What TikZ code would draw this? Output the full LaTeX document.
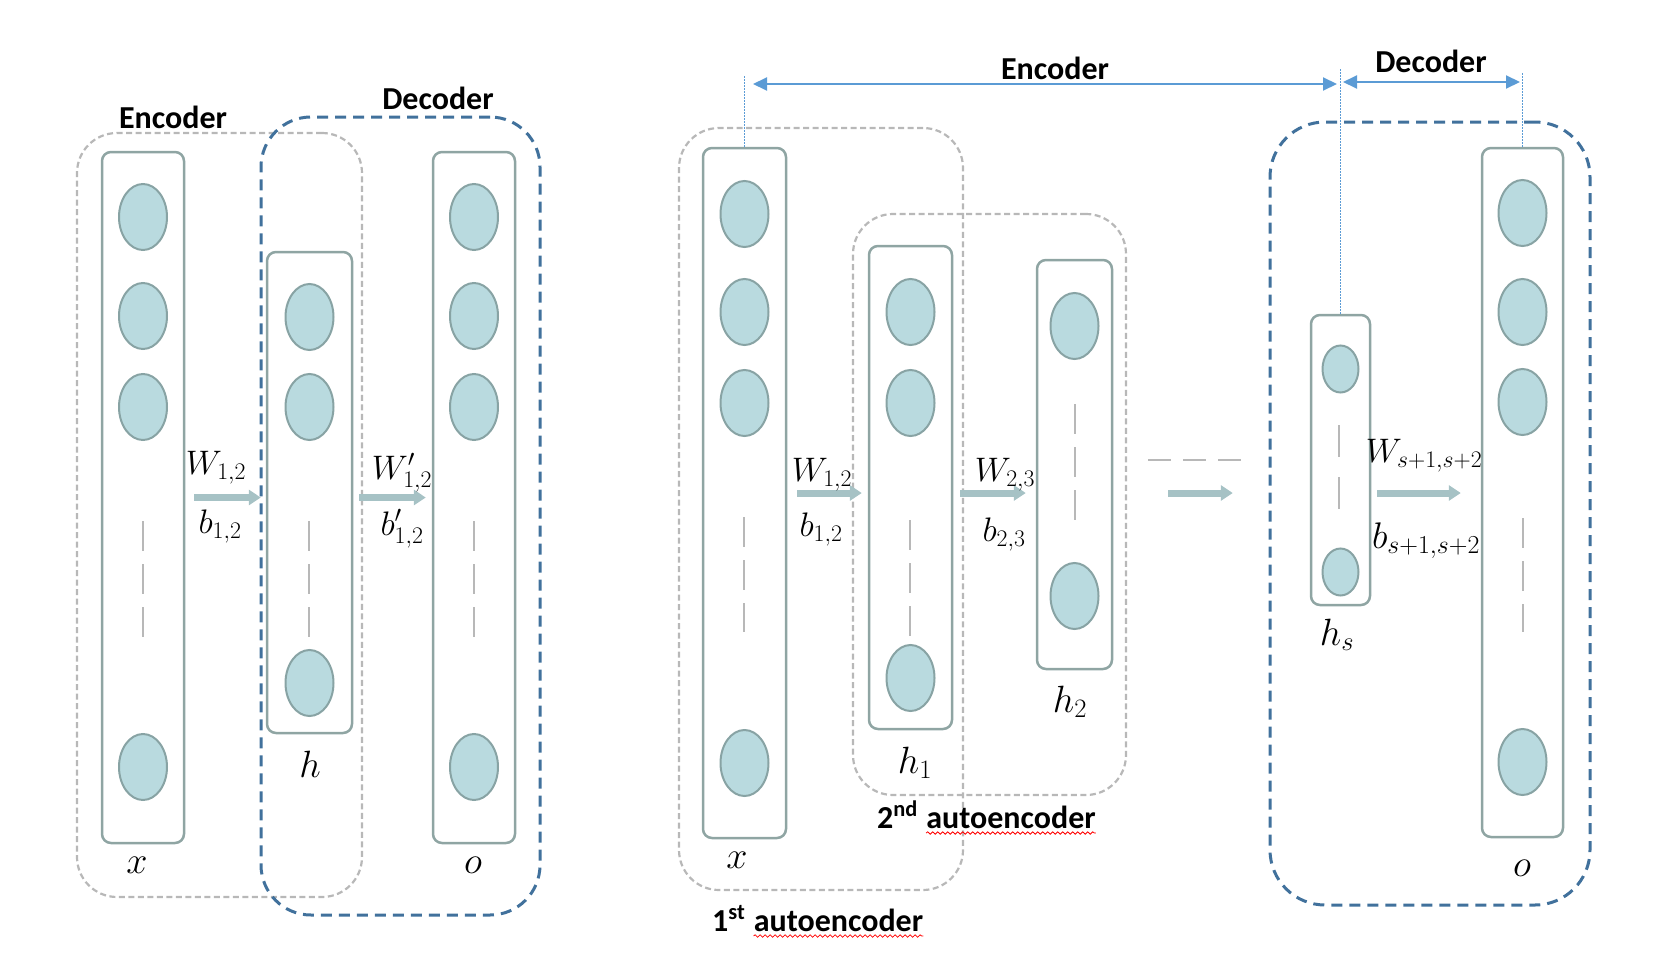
\RequirePackage{fix-cm}
\documentclass[tikz,border=0pt]{standalone}
\usepackage{fontspec}
\newfontfamily\carlito{Carlito}
\usepackage{xcolor}
\usetikzlibrary{positioning, arrows.meta, shapes.geometric, decorations.pathmorphing}

\definecolor{boxline}{HTML}{8FA5A3}
\definecolor{neuronfill}{HTML}{B9DADF}
\definecolor{neuronline}{HTML}{88A3A4}
\definecolor{graydash}{HTML}{B8B8B8}
\definecolor{bluedash}{HTML}{41719C}
\definecolor{guideblue}{HTML}{5B9BD5}
\definecolor{fatfill}{HTML}{A6C2C5}

\tikzset{
    column/.style={draw=boxline, line width=2.5pt, rounded corners=9pt, inner sep=0pt}, % a layer of units
    neuron/.style={ellipse, draw=neuronline, fill=neuronfill, line width=2pt, minimum width=48pt, minimum height=66pt, inner sep=0pt},
    small neuron/.style={neuron, minimum width=36pt, minimum height=47pt},
    group/.style={draw=graydash, line width=2.2pt, dash pattern=on 6pt off 3.5pt, rounded corners=40pt, inner sep=0pt}, % one autoencoder
    stage/.style={draw=bluedash, line width=3pt, dash pattern=on 11pt off 7pt, rounded corners=50pt, inner sep=0pt}, % decoder part
    skip/.style={draw=graydash, line width=2.5pt, dash pattern=on 30pt off 13pt}, % the "..." inside a layer
    flow/.style={draw=fatfill, line width=7pt, -{Triangle[length=12pt,width=15pt]}},
    span/.style={draw=guideblue, line width=2pt, {Triangle[length=14pt,width=13pt]}-{Triangle[length=14pt,width=13pt]}},
    guide/.style={draw=guideblue, line width=1pt, dash pattern=on 2pt off 1pt},
    heading/.style={font=\carlito\bfseries\fontsize{32}{38}\selectfont, inner sep=0pt},
    var/.style={font=\fontsize{38}{44}\selectfont, inner sep=0pt, anchor=base},
    param/.style={font=\fontsize{34}{40}\selectfont, inner sep=0pt, anchor=base},
    squiggle/.style={draw=red, line width=0.8pt, decorate, decoration={snake, amplitude=1.2pt, segment length=5pt}},
}

\begin{document}
\begin{tikzpicture}[x=1pt, y=-1pt]
    \useasboundingbox (0,0) rectangle (1666,964);

    % ---- single autoencoder (left) ----
    \node[group, minimum width=285pt, minimum height=764pt] (enc1) at (219.5,515) {};
    \node[stage, minimum width=279pt, minimum height=798pt] (dec1) at (400.5,516) {};
    \node[heading, anchor=base] (enclbl1) at (173,128) {Encoder};
    \node[heading, anchor=base] (declbl1) at (438,109) {Decoder};

    \node[column, minimum width=82pt, minimum height=691pt] (xcol1) at (143,497.5) {};
    \node[column, minimum width=85pt, minimum height=481pt] (hcol1) at (309.5,492.5) {};
    \node[column, minimum width=82pt, minimum height=691pt] (ocol1) at (474,497.5) {};

    \node[neuron] (x1a) at (143,217) {};
    \node[neuron] (x1b) at (143,316) {};
    \node[neuron] (x1c) at (143,407) {};
    \node[neuron] (x1d) at (143,767) {};
    \node[neuron] (h1a) at (309.5,317) {};
    \node[neuron] (h1b) at (309.5,407) {};
    \node[neuron] (h1c) at (309.5,683) {};
    \node[neuron] (o1a) at (474,217) {};
    \node[neuron] (o1b) at (474,316) {};
    \node[neuron] (o1c) at (474,407) {};
    \node[neuron] (o1d) at (474,767) {};

    \draw[skip] (143,521) -- (143,637);
    \draw[skip] (309,521) -- (309,637);
    \draw[skip] (474,521) -- (474,637);

    \draw[flow, shorten <=9pt, shorten >=5pt] (xcol1.east) -- (xcol1.east -| hcol1.west);
    \draw[flow, shorten <=6pt, shorten >=6pt] (hcol1.east |- xcol1.east) -- (xcol1.east -| ocol1.west);

    \node[param] (w1) at (216,474) {$W_{1,2}$};
    \node[param] (b1) at (220,533) {$b_{1,2}$};
    \node[param] (w1d) at (402,479) {$W^{\prime}_{1,2}$};
    \node[param] (b1d) at (402,535) {$b^{\prime}_{1,2}$};

    \node[var] (xl1) at (137,873) {$x$};
    \node[var] (hl1) at (310,777) {$h$};
    \node[var] (ol1) at (473,873) {$o$};

    % ---- stacked autoencoder (right) ----
    \node[group, minimum width=284pt, minimum height=762pt] (ae1) at (821,509) {};
    \node[group, minimum width=273pt, minimum height=581pt] (ae2) at (989.5,504.5) {};
    \node[stage, minimum width=320pt, minimum height=783pt, rounded corners=55pt] (dec2) at (1430,513.5) {};

    \node[column, minimum width=83pt, minimum height=690pt] (xcol2) at (744.5,493) {};
    \node[column, minimum width=83pt, minimum height=483pt] (h1col) at (910.5,487.5) {};
    \node[column, minimum width=75pt, minimum height=409pt] (h2col) at (1074.5,464.5) {};
    \node[column, minimum width=59pt, minimum height=290pt] (hscol) at (1340.5,460) {};
    \node[column, minimum width=81pt, minimum height=689pt] (ocol2) at (1522.5,492.5) {};

    \node[neuron] (x2a) at (744.5,214) {};
    \node[neuron] (x2b) at (744.5,312) {};
    \node[neuron] (x2c) at (744.5,403) {};
    \node[neuron] (x2d) at (744.5,763) {};
    \node[neuron] (h2a) at (910.5,312) {};
    \node[neuron] (h2b) at (910.5,403) {};
    \node[neuron] (h2c) at (910.5,678) {};
    \node[neuron] (h3a) at (1074.5,326) {};
    \node[neuron] (h3b) at (1074.5,596) {};
    \node[small neuron] (hsa) at (1340.5,369) {};
    \node[small neuron] (hsb) at (1340.5,572) {};
    \node[neuron] (o2a) at (1522.5,213) {};
    \node[neuron] (o2b) at (1522.5,312) {};
    \node[neuron] (o2c) at (1522.5,402) {};
    \node[neuron] (o2d) at (1522.5,762) {};

    \draw[skip] (744,517) -- (744,632);
    \draw[skip] (910,520) -- (910,637);
    \draw[skip] (1075,404) -- (1075,520);
    \draw[skip, dash pattern=on 32pt off 20pt] (1339,425) -- (1339,509);
    \draw[skip] (1523,518) -- (1523,632);

    \draw[flow, shorten <=10pt, shorten >=6pt] (xcol2.east) -- (xcol2.east -| h1col.west);
    \draw[flow, shorten <=7pt, shorten >=10pt] (h1col.east |- xcol2.east) -- (xcol2.east -| h2col.west);
    \draw[skip, line width=2pt, dash pattern=on 23pt off 12pt, shorten <=35pt, shorten >=58pt] (h2col.east |- hscol.east) -- (hscol.west);
    \draw[flow, shorten <=55pt, shorten >=77pt] (h2col.east |- xcol2.east) -- (xcol2.east -| hscol.west);
    \draw[flow, shorten <=6pt, shorten >=20pt] (hscol.east |- xcol2.east) -- (xcol2.east -| ocol2.west);

    \node[param] (w2) at (822,481) {$W_{1,2}$};
    \node[param] (b2) at (821,536) {$b_{1,2}$};
    \node[param] (w3) at (1005,481) {$W_{2,3}$};
    \node[param] (b3) at (1004,541) {$b_{2,3}$};
    \node[param] (ws) at (1424,462) {$W_{s+1,s+2}$};
    \node[param, font=\fontsize{37}{44}\selectfont] (bs) at (1426,548) {$b_{s+1,s+2}$};

    \node[var] (xl2) at (737,868) {$x$};
    \node[var] (hl2) at (915,773) {$h_1$};
    \node[var] (hl3) at (1070,712) {$h_2$};
    \node[var] (hls) at (1337,645) {$h_s$};
    \node[var] (ol2) at (1522,876) {$o$};

    % guides and spans on top
    \coordinate (gtopx) at (744.5,75);
    \coordinate (gtoph) at (1340.5,68);
    \coordinate (gtopo) at (1522.5,73);
    \draw[guide] (xcol2.north) -- (gtopx);
    \draw[guide] (hscol.north) -- (gtoph);
    \draw[guide] (ocol2.north) -- (gtopo);

    \coordinate (encL) at (753,84);
    \coordinate (encR) at (1337,84);
    \coordinate (decL) at (1343,82);
    \coordinate (decR) at (1520,82);
    \draw[span] (encL) -- (encR);
    \draw[span] (decL) -- (decR);
    \node[heading, anchor=base] (enclbl2) at (1055,79) {Encoder};
    \node[heading, anchor=base] (declbl2) at (1431,72) {Decoder};

    \node[heading, anchor=base west] (ord1) at (712,931) {1\textsuperscript{st}};
    \node[heading, right=8pt of ord1.base east, anchor=base west] (word1) {autoencoder};
    \node[heading, anchor=base west] (ord2) at (877,828) {2\textsuperscript{nd}};
    \node[heading, right=8pt of ord2.base east, anchor=base west] (word2) {autoencoder};
    \draw[squiggle] ([yshift=-5pt]word1.base west) -- ([yshift=-5pt]word1.base east);
    \draw[squiggle] ([yshift=-5pt]word2.base west) -- ([yshift=-5pt]word2.base east);
\end{tikzpicture}
\end{document}
